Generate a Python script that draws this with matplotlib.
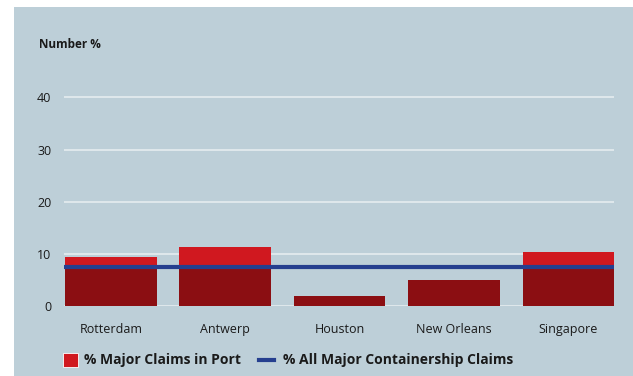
import matplotlib
matplotlib.use("Agg")
import matplotlib.pyplot as plt
import numpy as np
from matplotlib.lines import Line2D
from matplotlib.patches import Rectangle

ports = ["Rotterdam", "Antwerp", "Houston", "New Orleans", "Singapore"]
port_claims = [9.4, 11.3, 1.9, 5.0, 10.4]
all_claims = 7.5
yticks = [0, 10, 20, 30, 40]

BG = "#bdcfd8"
RED = "#d0181f"
DARK = "#8b0e12"
BLUE = "#253f8f"
GRID = "#e2eaee"

plt.rcParams["font.family"] = ["Open Sans", "DejaVu Sans"]

W, H = 633, 376
fig = plt.figure(figsize=(W / 100, H / 100), dpi=100, facecolor="white")
fig.patches.append(Rectangle((14 / W, 0), 1 - 14 / W, (H - 7) / H, transform=fig.transFigure,
                             facecolor=BG, edgecolor="none", zorder=-10))


def fx(px):
    return px / W


def fy(py):
    return (H - py) / H


ax = fig.add_axes([fx(64), fy(306), fx(614) - fx(64), fy(87) - fy(306)])
ax.set_facecolor("none")

x = np.arange(len(ports))
vals = np.array(port_claims)
ax.bar(x, np.minimum(vals, all_claims), width=0.8, color=DARK, zorder=2)
ax.bar(x, np.maximum(vals - all_claims, 0), bottom=all_claims, width=0.8, color=RED, zorder=2)
ax.axhline(all_claims, color=BLUE, lw=3, zorder=3)

for t in yticks:
    ax.axhline(t, color=GRID, lw=1.3, zorder=1)

ax.set_xlim(-0.41, 4.40)
ax.set_ylim(0, 42)
ax.set_yticks(yticks)
ax.set_xticks(x)
ax.set_xticklabels(ports)
ax.tick_params(axis="both", length=0, labelsize=9, colors="#1a1a1a")
ax.tick_params(axis="y", pad=9)
ax.tick_params(axis="x", pad=12)
for s in ax.spines.values():
    s.set_visible(False)

fig.text(fx(39), fy(44), "Number %", fontsize=8.5, fontweight="bold", va="center", color="#1a1a1a")

# legend
fig.patches.append(Rectangle((fx(63), fy(367)), fx(78) - fx(63), fy(353) - fy(367),
                             transform=fig.transFigure, facecolor=RED, edgecolor="white", lw=0.6))
fig.text(fx(84), fy(360), "% Major Claims in Port", fontsize=10, fontweight="bold", va="center", color="#1a1a1a")
fig.lines.append(Line2D([fx(259), fx(274)], [fy(360), fy(360)], transform=fig.transFigure, color=BLUE, lw=3))
fig.text(fx(283), fy(360), "% All Major Containership Claims", fontsize=10, fontweight="bold", va="center", color="#1a1a1a")

fig.savefig("out.png", dpi=100, facecolor="white")
